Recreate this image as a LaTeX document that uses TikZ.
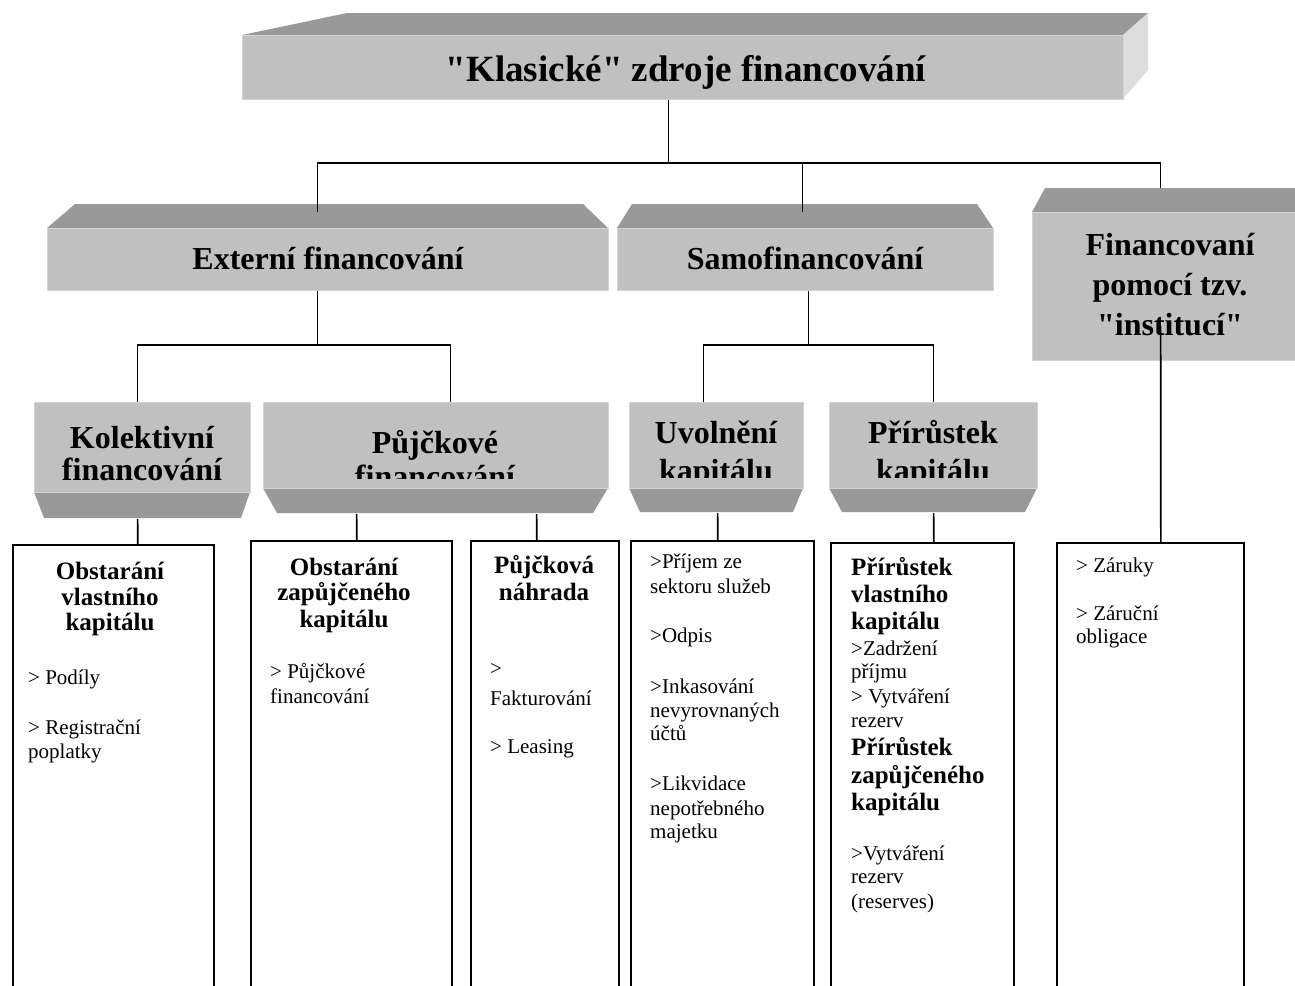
\documentclass[tikz,border=0pt]{standalone}
\usepackage{fontspec}
\setmainfont{Liberation Serif}
% same face without the TeX input mapping, for straight double quotes
\newfontfamily\rawserif{Liberation Serif}
\usetikzlibrary{calc}

\definecolor{facefront}{HTML}{C0C0C0}
\definecolor{facetop}{HTML}{999999}
\definecolor{faceside}{HTML}{DDDDDD}
\definecolor{faceedge}{HTML}{D4D4D4}

\newcommand\TitleFont{\bfseries\fontsize{37}{42}\selectfont}
\newcommand\BoxFont{\bfseries\fontsize{32}{38}\selectfont}
\newcommand\HeadFont{\bfseries\fontsize{25}{28}\selectfont}
\newcommand\ItemFont{\fontsize{21}{24}\selectfont}
\newcommand\dq{{\rawserif"}}

\tikzset{
  front/.style={fill=facefront, draw=faceedge, line width=1.2pt, inner sep=0pt, anchor=north west},
  slab/.style={fill=facetop},
  link/.style={draw=black, line width=1.7pt},
  listbox/.style={draw=black, line width=1.7pt, inner sep=0pt, anchor=north west},
  label/.style={inner sep=0pt, anchor=base},
  head/.style={inner sep=0pt, anchor=base, font=\HeadFont},
  item/.style={inner sep=0pt, anchor=base west, font=\ItemFont},
  itemb/.style={inner sep=0pt, anchor=base west, font=\HeadFont},
}

\begin{document}
\begin{tikzpicture}[x=1pt,y=-1pt]
\useasboundingbox (0,0) rectangle (1295,985);
\begin{scope}
\clip (0,0) rectangle (1295,985);

% ---------- top slab ----------
\fill[slab] (242,35) -- (347,13) -- (1148,13) -- (1123,35) -- cycle;
\fill[faceside] (1123,35) -- (1148,13) -- (1148,70) -- (1123,99) -- cycle;
\node[front, minimum width=881, minimum height=64] (title) at (242,35) {};
\node[label, font=\TitleFont] (titletext) at (686,81) {\dq Klasické\dq{} zdroje financování};

% ---------- second row ----------
\fill[slab] (47,228) -- (75,204) -- (583,204) -- (608,228) -- cycle;
\node[front, minimum width=561, minimum height=62] (ext) at (47,228) {};
\node[label, font=\BoxFont] (exttext) at (328,269) {Externí financování};

\fill[slab] (617,228) -- (632,204) -- (977,204) -- (993,228) -- cycle;
\node[front, minimum width=376, minimum height=62] (samo) at (617,228) {};
\node[label, font=\BoxFont] (samotext) at (805,269) {Samofinancování};

\fill[slab] (1032,212) -- (1045,188) -- (1320,188) -- (1320,212) -- cycle;
\node[front, minimum width=278, minimum height=148] (inst) at (1032,212) {};
\node[label, font=\BoxFont] (insttext1) at (1170,255) {Financovaní};
\node[label, font=\BoxFont] (insttext2) at (1170,295) {pomocí tzv.};
\node[label, font=\BoxFont] (insttext3) at (1170,335) {\dq institucí\dq};

% ---------- third row ----------
\fill[slab] (34,492) -- (250,492) -- (241,518) -- (44,518) -- cycle;
\node[front, minimum width=216, minimum height=90] (kol) at (34,402) {};
\begin{scope}
  \clip (34,402) rectangle (250,488);
  \node[label, font=\BoxFont] (koltext1) at (142,448) {Kolektivní};
  \node[label, font=\BoxFont] (koltext2) at (142,480) {financování};
\end{scope}

\fill[slab] (263,488) -- (608,488) -- (593,513) -- (277,513) -- cycle;
\node[front, minimum width=345, minimum height=86] (pujc) at (263,402) {};
\begin{scope}
  \clip (263,402) rectangle (608,478);
  \node[label, font=\BoxFont] (pujctext1) at (435,453) {Půjčkové};
  \node[label, font=\BoxFont] (pujctext2) at (435,487) {financování};
\end{scope}

\fill[slab] (629,488) -- (803,488) -- (793,512) -- (640,512) -- cycle;
\node[front, minimum width=174, minimum height=86] (uvol) at (629,402) {};
\begin{scope}
  \clip (629,402) rectangle (803,477);
  \node[label, font=\BoxFont] (uvoltext1) at (716,443) {Uvolnění};
  \node[label, font=\BoxFont] (uvoltext2) at (716,481) {kapitálu};
\end{scope}

\fill[slab] (829,488) -- (1037,488) -- (1025,512) -- (842,512) -- cycle;
\node[front, minimum width=208, minimum height=86] (prir) at (829,402) {};
\begin{scope}
  \clip (829,402) rectangle (1037,477);
  \node[label, font=\BoxFont] (prirtext1) at (933,443) {Přírůstek};
  \node[label, font=\BoxFont] (prirtext2) at (933,481) {kapitálu};
\end{scope}

% ---------- list boxes ----------
\node[listbox, minimum width=201, minimum height=470] (b1) at (12,544) {};
\node[listbox, minimum width=201, minimum height=470] (b2) at (250,540) {};
\node[listbox, minimum width=148, minimum height=470] (b3) at (470,540) {};
\node[listbox, minimum width=183, minimum height=470] (b4) at (630,540) {};
\node[listbox, minimum width=183, minimum height=470] (b5) at (830,542) {};
\node[listbox, minimum width=187, minimum height=470] (b6) at (1056,542) {};

% ---------- connectors ----------
\draw[link] ([xshift=-14.5]title.south) -- ++(0,64) coordinate (hub);
\draw[link] ([xshift=-10.5,yshift=16]ext.north) -- ++(0,-49) -| ([xshift=-11,yshift=24]inst.north);
\draw[link] ([xshift=-3,yshift=16]samo.north) -- ++(0,-49);

\draw[link] ([xshift=-10.5]ext.south) -- ++(0,55);
\draw[link] ([xshift=-5]kol.north) -- ++(0,-57) -| ([xshift=14.5]pujc.north);
\draw[link] ([xshift=3]samo.south) -- ++(0,55);
\draw[link] ([xshift=-13]uvol.north) -- ++(0,-57) -| (prir.north);

\draw[link] ([xshift=-5,yshift=-26]kol.south) -- ([xshift=24.5]b1.north);
\draw[link] ([xshift=-79.5,yshift=-25]pujc.south) -- ([xshift=5.5]b2.north);
\draw[link] ([xshift=100.5,yshift=-25]pujc.south) -- ([xshift=-8]b3.north);
\draw[link] ([xshift=1,yshift=-24]uvol.south) -- ([xshift=-4.5]b4.north);
\draw[link] ([yshift=-24]prir.south) -- ([xshift=11.5]b5.north);
\draw[link] ([xshift=-11,yshift=35]inst.south) -- ([xshift=10.5]b6.north);

% ---------- list contents ----------
\foreach \yy/\txt [count=\i] in {579/Obstarání, 605/vlastního, 630/kapitálu}
  \node[head] (b1h\i) at (110,\yy) {\txt};
\foreach \yy/\txt [count=\i] in {684/> Podíly, 734/> Registrační, 758/poplatky}
  \node[item] (b1i\i) at (28,\yy) {\txt};

\foreach \yy/\txt [count=\i] in {575/Obstarání, 600/zapůjčeného, 627/kapitálu}
  \node[head] (b2h\i) at (344,\yy) {\txt};
\foreach \yy/\txt [count=\i] in {678/> Půjčkové, 703/financování}
  \node[item] (b2i\i) at (270,\yy) {\txt};

\foreach \yy/\txt [count=\i] in {573/Půjčková, 600/náhrada}
  \node[head] (b3h\i) at (544,\yy) {\txt};
\foreach \yy/\txt [count=\i] in {675/>, 705/Fakturování, 753/> Leasing}
  \node[item] (b3i\i) at (490,\yy) {\txt};

\foreach \yy/\txt [count=\i] in {568/>Příjem ze, 593/sektoru služeb, 642/>Odpis,
    693/>Inkasování, 717/nevyrovnaných, 740/účtů, 790/>Likvidace,
    815/nepotřebného, 838/majetku}
  \node[item] (b4i\i) at (650,\yy) {\txt};

\foreach \yy/\txt [count=\i] in {575/Přírůstek, 602/vlastního, 629/kapitálu,
    755/Přírůstek, 783/zapůjčeného, 810/kapitálu}
  \node[itemb] (b5h\i) at (851,\yy) {\txt};
\foreach \yy/\txt [count=\i] in {655/>Zadržení, 678/příjmu, 703/> Vytváření,
    727/rezerv, 860/>Vytváření, 883/rezerv, 908/(reserves)}
  \node[item] (b5i\i) at (851,\yy) {\txt};

\foreach \yy/\txt [count=\i] in {572/> Záruky, 620/> Záruční, 643/obligace}
  \node[item] (b6i\i) at (1076,\yy) {\txt};

\end{scope}
\end{tikzpicture}
\end{document}
